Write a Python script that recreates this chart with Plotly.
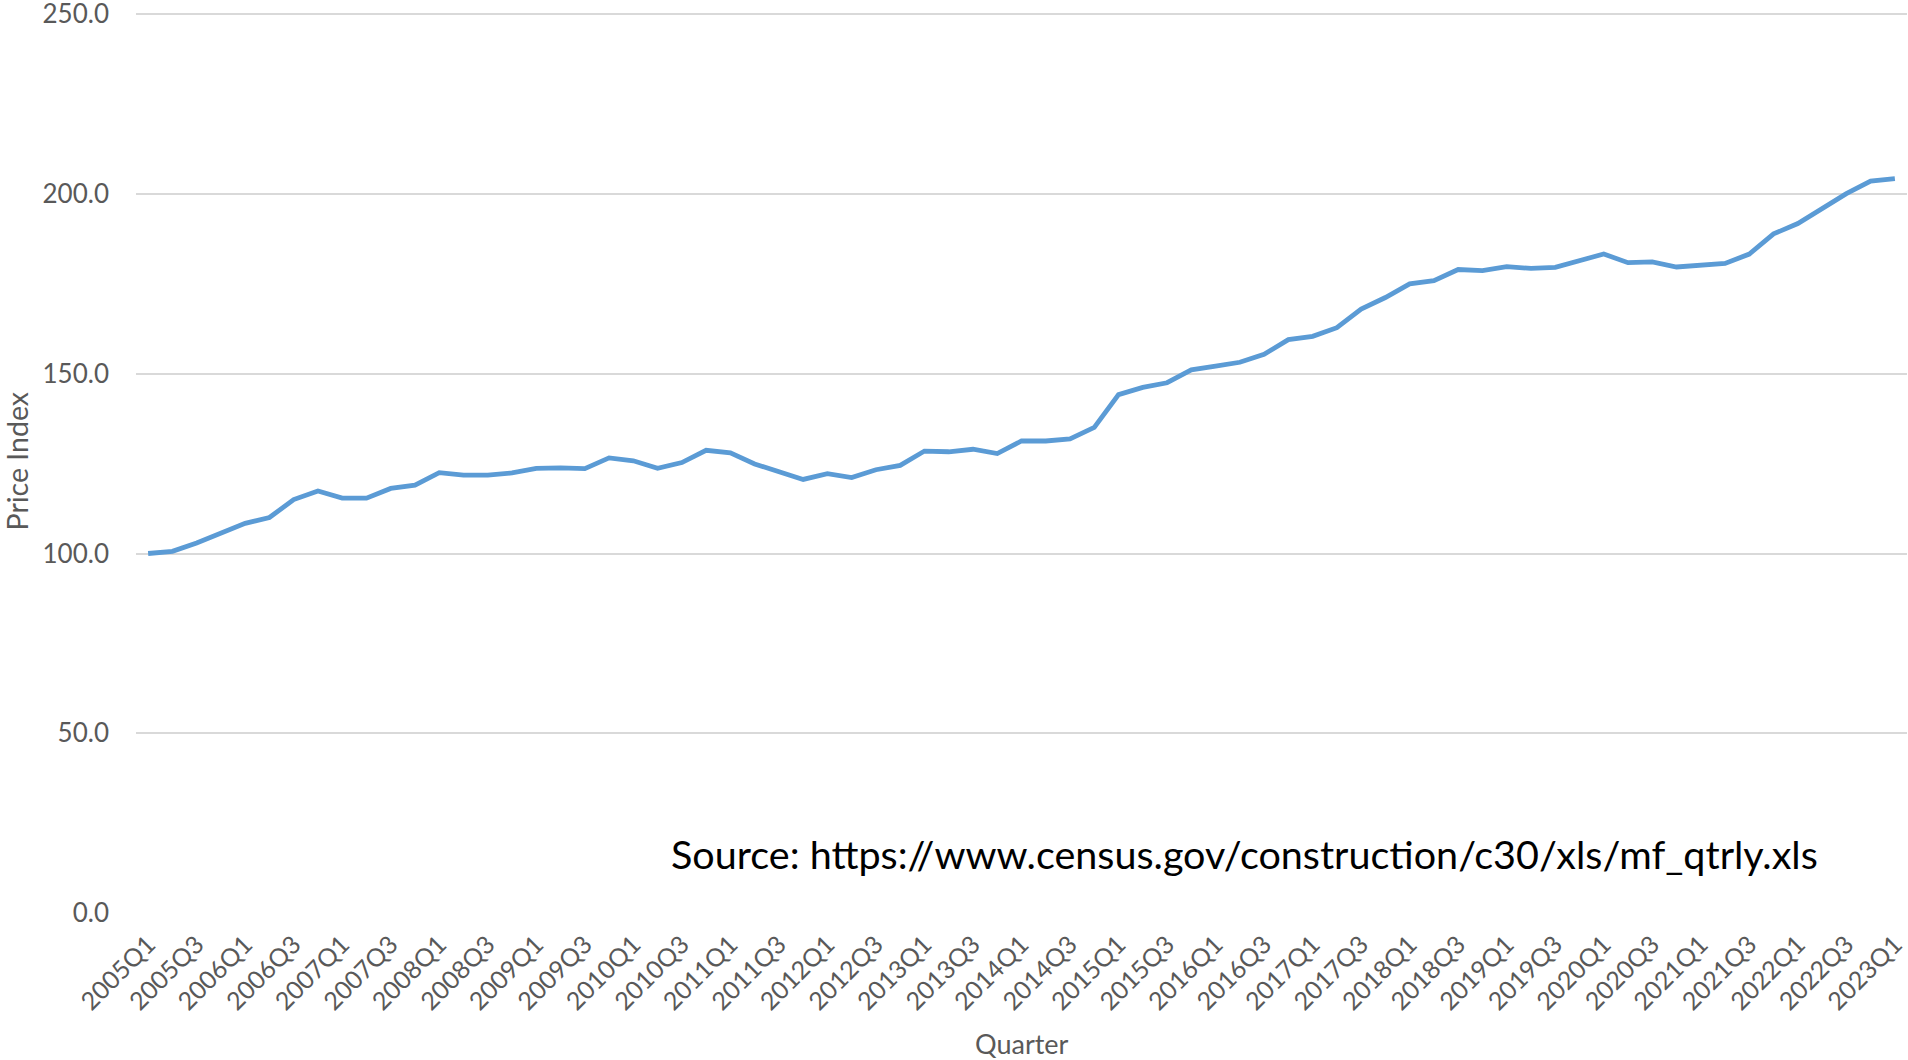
import plotly.graph_objects as go

years = list(range(2005, 2024))
quarters = [f"{y}Q{q}" for y in years for q in (1, 2, 3, 4)][:73]

price_index = [
    100.0, 100.6, 102.9, 105.8, 108.4, 110.0, 115.0, 117.4, 115.4, 115.4,
    118.1, 119.0, 122.5, 121.8, 121.8, 122.4, 123.7, 123.8, 123.6, 126.6,
    125.8, 123.7, 125.3, 128.7, 128.0, 124.9, 122.8, 120.6, 122.2, 121.1,
    123.3, 124.5, 128.5, 128.3, 129.0, 127.8, 131.3, 131.3, 131.9, 135.1,
    144.2, 146.2, 147.5, 151.1, 152.1, 153.2, 155.4, 159.5, 160.4, 162.8,
    168.0, 171.2, 175.0, 175.9, 179.0, 178.7, 179.8, 179.3, 179.6, 181.6,
    183.3, 180.9, 181.1, 179.7, 180.2, 180.7, 183.3, 188.9, 191.8, 196.0,
    200.1, 203.6, 204.3,
]

tick_labels = quarters[::2]
y_ticks = [0, 50, 100, 150, 200, 250]

x_title = "Quarter"
y_title = "Price Index"
source_text = "Source: https://www.census.gov/construction/c30/xls/mf_qtrly.xls"

FONT = "Lato, 'Open Sans', sans-serif"
GRAY = "#595959"

fig = go.Figure()
fig.add_trace(go.Scatter(
    x=quarters, y=price_index, mode="lines",
    line=dict(color="#5B9BD5", width=4.8),
    hoverinfo="x+y", showlegend=False,
))

fig.update_layout(
    width=1908, height=1060,
    margin=dict(l=136, r=1, t=13, b=147, autoexpand=False),
    paper_bgcolor="white", plot_bgcolor="white",
    font=dict(family=FONT, color=GRAY, size=26),
    xaxis=dict(
        type="category", range=[-0.5, 72.5], automargin=False,
        tickmode="array", tickvals=tick_labels, ticktext=tick_labels,
        tickangle=-45, tickfont=dict(size=25, color=GRAY, family=FONT),
        showgrid=False, zeroline=False, showline=False, ticks="",
        ticklabelstandoff=11, ticklabeloverflow="allow",
    ),
    yaxis=dict(
        range=[0, 250.35], automargin=False,
        tickmode="array", tickvals=y_ticks,
        ticktext=[f"{v:.1f}" for v in y_ticks],
        tickfont=dict(size=26, color=GRAY, family=FONT),
        showgrid=True, gridcolor="#D9D9D9", gridwidth=1.6,
        zeroline=False, showline=False, ticks="",
        ticklabelstandoff=26, ticklabeloverflow="allow",
    ),
    annotations=[
        dict(text=source_text, xref="paper", yref="paper",
             x=0.301, y=0.0656, xanchor="left", yanchor="middle",
             showarrow=False, font=dict(size=39.5, color="black", family=FONT)),
        dict(text=x_title, xref="paper", yref="paper",
             x=0.5, y=-0.1446, xanchor="center", yanchor="middle",
             showarrow=False, font=dict(size=27, color=GRAY, family=FONT)),
        dict(text=y_title, xref="paper", yref="paper",
             x=-0.0672, y=0.5017, xanchor="center", yanchor="middle",
             textangle=-90, showarrow=False,
             font=dict(size=28.5, color=GRAY, family=FONT)),
    ],
)

fig.write_html(
    "out.html",
    config={"displayModeBar": False},
    post_script="document.body.style.margin='0';document.body.style.overflow='hidden';",
)
